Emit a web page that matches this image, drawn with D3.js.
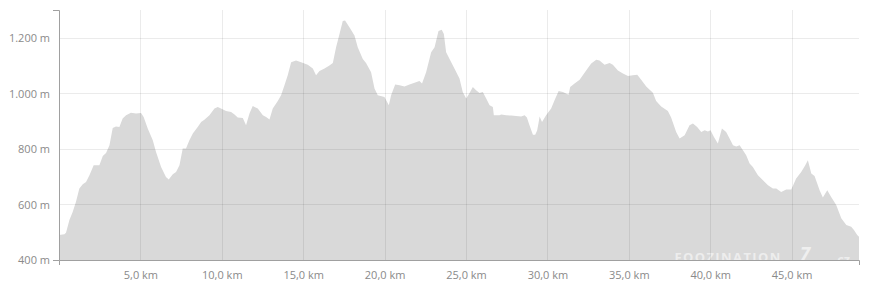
<!DOCTYPE html>
<html>
<head>
<meta charset="utf-8">
<script src="https://cdn.jsdelivr.net/npm/d3@7"></script>
<style>
  html, body { margin: 0; padding: 0; background: #fff; }
  svg { display: block; }
  .tick text { font-family: "Open Sans", sans-serif; font-size: 11px; fill: #8a8a8a; }
</style>
</head>
<body>
<svg id="chart" width="890" height="287"></svg>
<script>
// Distance along route (km)
const distanceKm = [
  0.00, 0.33, 0.43, 0.64, 0.84, 1.04, 1.25, 1.46, 1.66, 1.87, 2.13, 2.48, 2.69, 2.89, 3.10, 3.30, 3.50, 3.71, 3.91, 4.12,
  4.42, 4.73, 5.04, 5.20, 5.45, 5.76, 5.96, 6.27, 6.57, 6.74, 6.99, 7.19, 7.40, 7.60, 7.80, 8.01, 8.22, 8.52, 8.73, 8.93,
  9.24, 9.55, 9.75, 9.95, 10.26, 10.57, 10.78, 10.98, 11.29, 11.49, 11.70, 11.90, 12.21, 12.52, 12.72, 12.93, 13.13, 13.44, 13.64, 13.85,
  14.05, 14.26, 14.56, 14.87, 15.28, 15.59, 15.79, 16.00, 16.31, 16.61, 16.82, 17.02, 17.23, 17.43, 17.57, 17.84, 18.15, 18.35, 18.66, 18.86,
  19.17, 19.38, 19.58, 19.99, 20.26, 20.40, 20.65, 20.92, 21.22, 21.53, 21.84, 22.14, 22.30, 22.55, 22.86, 23.07, 23.31, 23.51, 23.64, 23.78,
  23.99, 24.29, 24.60, 24.80, 25.01, 25.22, 25.42, 25.62, 25.83, 26.03, 26.24, 26.45, 26.65, 26.71, 27.06, 27.16, 27.47, 27.77, 28.39, 28.60,
  28.74, 28.90, 29.11, 29.25, 29.37, 29.45, 29.52, 29.67, 29.92, 30.23, 30.44, 30.69, 30.95, 31.30, 31.40, 31.67, 31.98, 32.38, 32.69, 33.00,
  33.20, 33.51, 33.82, 34.02, 34.33, 34.64, 34.95, 35.25, 35.52, 35.76, 36.07, 36.48, 36.68, 36.99, 37.40, 37.60, 37.91, 38.12, 38.43, 38.73,
  38.94, 39.20, 39.45, 39.66, 39.86, 40.02, 40.23, 40.47, 40.72, 40.98, 41.19, 41.40, 41.60, 41.81, 42.01, 42.21, 42.42, 42.62, 42.93, 43.24,
  43.55, 43.85, 44.06, 44.36, 44.67, 44.98, 45.28, 45.59, 45.84, 46.00, 46.21, 46.41, 46.72, 46.92, 47.19, 47.43, 47.74, 48.05, 48.36, 48.66,
  48.83, 49.03, 49.14
];
// Elevation (m)
const elevationM = [
  490, 493, 498, 544, 573, 609, 657, 673, 681, 705, 741, 741, 774, 785, 813, 875, 881, 879, 909, 921,
  930, 927, 929, 915, 873, 831, 789, 735, 699, 690, 709, 717, 741, 801, 801, 831, 855, 879, 897, 905,
  921, 945, 951, 945, 936, 933, 924, 913, 911, 885, 927, 954, 945, 921, 915, 906, 945, 972, 993, 1029,
  1065, 1112, 1118, 1112, 1103, 1089, 1065, 1080, 1089, 1100, 1109, 1166, 1214, 1260, 1262, 1238, 1208, 1166, 1124, 1109,
  1076, 1017, 993, 987, 957, 993, 1032, 1029, 1025, 1032, 1038, 1044, 1035, 1076, 1148, 1166, 1224, 1229, 1214, 1148,
  1124, 1089, 1053, 1005, 981, 1001, 1023, 1011, 1001, 1005, 981, 957, 951, 921, 921, 924, 921, 920, 917, 921,
  913, 885, 851, 851, 866, 891, 917, 897, 921, 945, 975, 1008, 1005, 995, 1023, 1035, 1049, 1082, 1107, 1121,
  1118, 1103, 1109, 1103, 1082, 1071, 1062, 1065, 1067, 1049, 1025, 1002, 972, 953, 936, 913, 861, 837, 849, 885,
  891, 879, 861, 867, 863, 867, 843, 819, 873, 861, 837, 813, 809, 813, 795, 777, 747, 735, 705, 687,
  669, 657, 657, 645, 654, 654, 693, 717, 741, 759, 711, 702, 651, 625, 651, 627, 598, 550, 526, 520,
  508, 490, 484
];
const xTickValues = [5, 10, 15, 20, 25, 30, 35, 40, 45];
const yTickValues = [400, 600, 800, 1000, 1200];
const yDomain = [400, 1300];
const watermarkText = "FOOZINATION";

const svg = d3.select("#chart");
const margin = { left: 59, top: 10 };
const width = 800, height = 250;

const data = distanceKm.map((d, i) => ({ km: d, m: elevationM[i] }));

const x = d3.scaleLinear().domain([0, d3.max(distanceKm)]).range([0, width]);
const y = d3.scaleLinear().domain(yDomain).range([height, 0]);

const g = svg.append("g").attr("transform", `translate(${margin.left},${margin.top})`);

g.append("defs").append("clipPath").attr("id", "plotclip")
  .append("rect").attr("x", 0).attr("y", 0).attr("width", width).attr("height", height);

// area
const area = d3.area()
  .x(d => x(d.km))
  .y0(height)
  .y1(d => y(d.m))
  .curve(d3.curveLinear);

g.append("path")
  .datum(data)
  .attr("d", area)
  .attr("fill", "#d9d9d9");

// watermark (clipped by plot area, only its top shows)
const wm = g.append("g").attr("clip-path", "url(#plotclip)");
wm.append("text")
  .attr("x", x(37.8))
  .attr("y", height + 1.5)
  .attr("font-family", "Open Sans, sans-serif")
  .attr("font-weight", "bold")
  .attr("font-size", 13)
  .attr("textLength", 106)
  .attr("lengthAdjust", "spacing")
  .attr("fill", "#ffffff")
  .attr("fill-opacity", 0.55)
  .text(watermarkText);
wm.append("text")
  .attr("x", x(45.5))
  .attr("y", height + 1)
  .attr("font-family", "Open Sans, sans-serif")
  .attr("font-weight", "bold")
  .attr("font-style", "italic")
  .attr("font-size", 19)
  .attr("fill", "#ffffff")
  .attr("fill-opacity", 0.6)
  .text("7");
wm.append("text")
  .attr("x", x(47.8))
  .attr("y", height + 4)
  .attr("font-family", "Open Sans, sans-serif")
  .attr("font-weight", "bold")
  .attr("font-size", 13)
  .attr("fill", "#ffffff")
  .attr("fill-opacity", 0.55)
  .text("cz");

// grid lines (drawn over the area, translucent)
g.append("g")
  .selectAll("line.hg")
  .data(yTickValues.filter(v => v !== 400))
  .join("line")
  .attr("x1", 0).attr("x2", width)
  .attr("y1", d => Math.round(y(d)) + 0.5).attr("y2", d => Math.round(y(d)) + 0.5)
  .attr("stroke", "#000").attr("stroke-opacity", 0.08);

g.append("g")
  .selectAll("line.vg")
  .data(xTickValues)
  .join("line")
  .attr("y1", 0).attr("y2", height)
  .attr("x1", d => Math.round(x(d)) + 0.5).attr("x2", d => Math.round(x(d)) + 0.5)
  .attr("stroke", "#000").attr("stroke-opacity", 0.08);

// axes
const xAxis = d3.axisBottom(x)
  .tickValues(xTickValues)
  .tickSizeInner(0)
  .tickSizeOuter(5)
  .tickPadding(9)
  .tickFormat(d => d3.format(".1f")(d).replace(".", ",") + " km");

const yAxis = d3.axisLeft(y)
  .tickValues(yTickValues)
  .tickSizeInner(0)
  .tickSizeOuter(6)
  .tickPadding(9)
  .tickFormat(d => d3.format(",")(d).replace(/,/g, ".") + " m");

const gx = g.append("g").attr("transform", `translate(0,${height})`).call(xAxis);
const gy = g.append("g").call(yAxis);

gx.select(".domain").attr("stroke", "#a0a0a0");
gy.select(".domain").attr("stroke", "#a0a0a0");
gx.selectAll(".tick text").attr("dy", "0.9em");
gy.selectAll(".tick text").attr("dy", "0.36em");
// small tick at 400 m on left axis
gy.append("line").attr("x1", -6).attr("x2", 0)
  .attr("y1", height + 0.5).attr("y2", height + 0.5)
  .attr("stroke", "#a0a0a0");
</script>
</body>
</html>
